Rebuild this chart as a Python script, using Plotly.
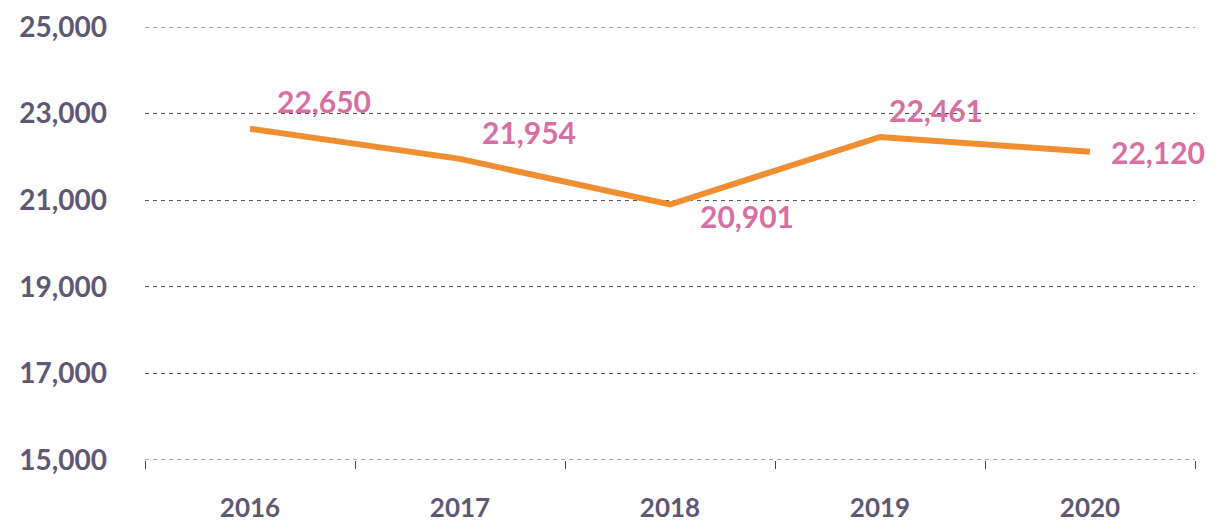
import plotly.graph_objects as go

years = ["2016", "2017", "2018", "2019", "2020"]
values = [22650, 21954, 20901, 22461, 22120]
label_texts = ["22,650", "21,954", "20,901", "22,461", "22,120"]
label_dx = [74, 69, 77, 56, 68]
label_dy = [28, 27, -12, 27, 0]
y_ticks = [15000, 17000, 19000, 21000, 23000, 25000]
y_tick_text = ["15,000", "17,000", "19,000", "21,000", "23,000", "25,000"]
edge_lines = [15000, 25000]

TXT = "#5e5872"
PINK = "#d76fa2"
ORANGE = "#ef8f32"
GRID = "#555"
FONT = "Lato"

fig = go.Figure()
fig.add_trace(go.Scatter(
    x=years, y=values, mode="lines",
    line=dict(color=ORANGE, width=6),
    hoverinfo="skip", showlegend=False,
))

for i, (y, t, dx, dy) in enumerate(zip(values, label_texts, label_dx, label_dy)):
    fig.add_annotation(
        x=i, y=y, xref="x", yref="y", text=f"<b>{t}</b>", showarrow=False,
        xshift=dx, yshift=dy,
        font=dict(family=FONT, size=30, color=PINK, weight=900),
    )

for v in edge_lines:
    fig.add_shape(
        type="line", xref="paper", yref="y", x0=0, x1=1, y0=v, y1=v,
        line=dict(color=GRID, width=1, dash="4px,4px"), layer="below",
    )

fig.update_layout(
    width=1222, height=526,
    margin=dict(l=145, r=27, t=27, b=66),
    paper_bgcolor="white", plot_bgcolor="white",
    showlegend=False,
)
fig.update_xaxes(
    type="category", range=[-0.5, 4.5], automargin=False,
    tickson="boundaries", ticks="outside", ticklen=8, tickwidth=1, tickcolor="#444",
    showgrid=False, showline=False, zeroline=False,
    ticklabelstandoff=30,
    tickfont=dict(family=FONT, size=26, color=TXT, weight="bold"),
)
fig.update_yaxes(
    range=[15000, 25000], automargin=False,
    tickvals=y_ticks, ticktext=y_tick_text,
    showgrid=True, gridcolor=GRID, gridwidth=1, griddash="4px,4px",
    showline=False, zeroline=False, ticks="",
    ticklabelstandoff=37,
    tickfont=dict(family=FONT, size=28, color=TXT, weight="bold"),
)

fig.write_html(
    "out.html",
    config={"displayModeBar": False},
    post_script="document.body.style.margin='0';document.body.style.padding='0';",
)
